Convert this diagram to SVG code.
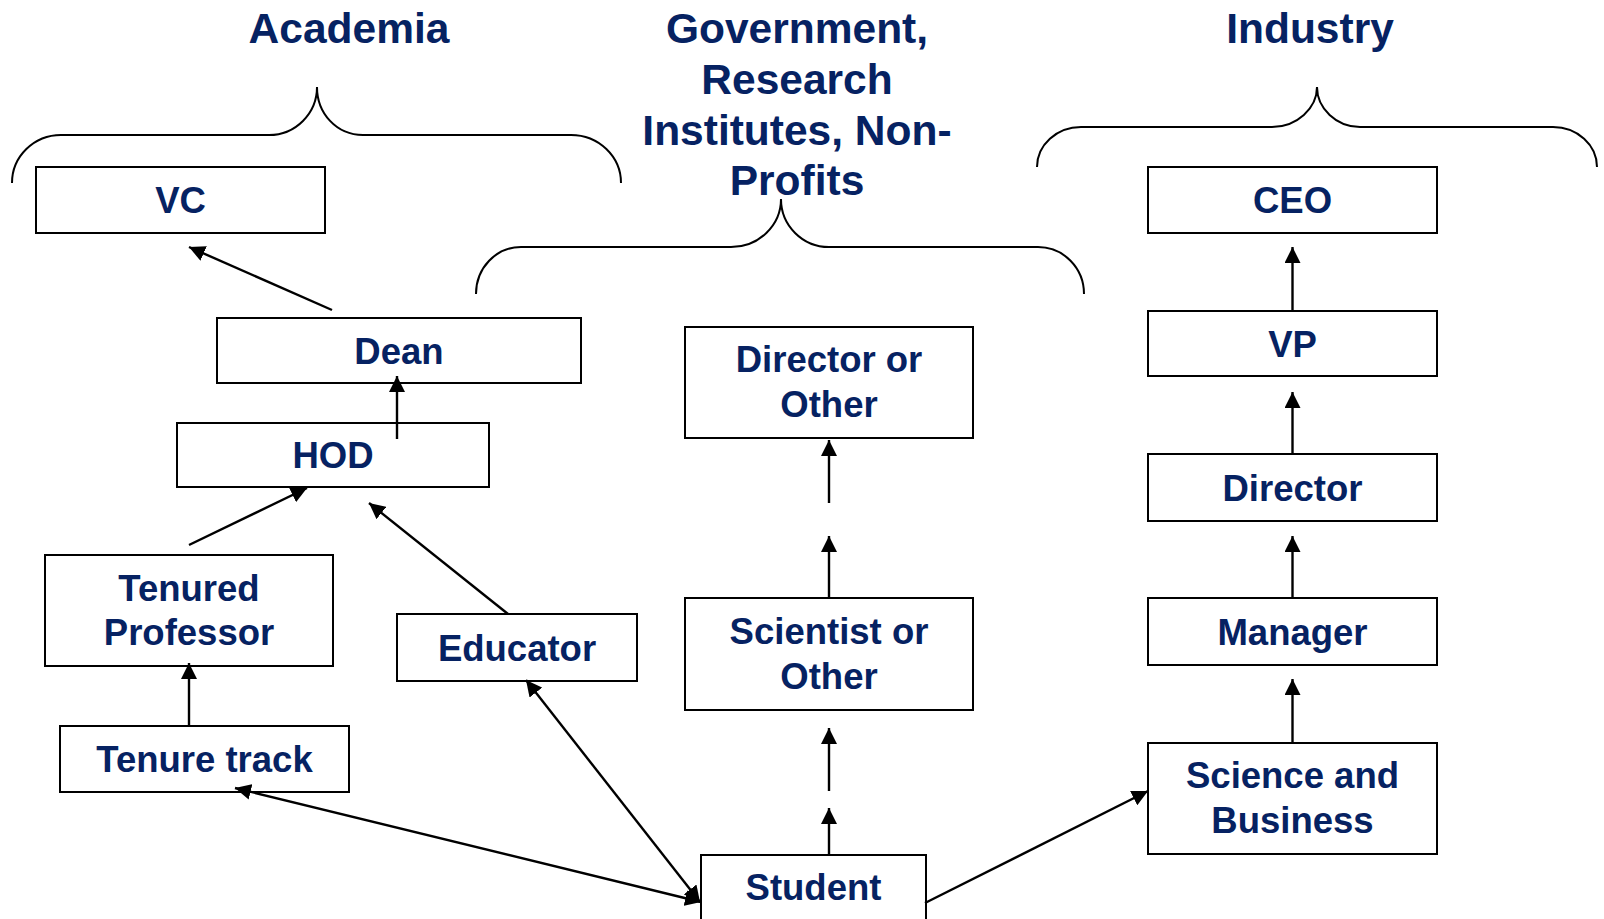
<svg xmlns="http://www.w3.org/2000/svg" width="1604" height="919" viewBox="0 0 1604 919">
<style>
.box{fill:#fff;stroke:#000;stroke-width:2}
.lbl{font-family:"Liberation Sans",Arial,sans-serif;font-weight:bold;font-size:36.5px;fill:#062262;text-anchor:middle}
.ttl{font-family:"Liberation Sans",Arial,sans-serif;font-weight:bold;font-size:42.5px;fill:#062262;text-anchor:middle}
.brace{fill:none;stroke:#000;stroke-width:2}
.conn{fill:none;stroke:#000;stroke-width:2.4}
</style>
<defs>
<marker id="ah" markerUnits="userSpaceOnUse" markerWidth="16" markerHeight="16" refX="16" refY="8" orient="auto-start-reverse" viewBox="0 0 16 16">
<path d="M0,0 L16,8 L0,16 z" fill="#000"/>
</marker>
</defs>
<rect width="1604" height="919" fill="#fff"/>
<g id="titles">
<text class="ttl" x="349" y="42.7">Academia</text>
<text class="ttl" x="797" y="42.7">Government,</text>
<text class="ttl" x="797" y="93.5">Research</text>
<text class="ttl" x="797" y="144.5">Institutes, Non-</text>
<text class="ttl" x="797" y="195">Profits</text>
<text class="ttl" x="1310" y="42.7">Industry</text>
</g>
<g id="braces">
<path class="brace" d="M12,183 C12,156.5 34,135 61,135 H269 C295.5,135 317,113.5 317,87 C317,113.5 336.5,135 363,135 H571 C598.6,135 621,156.5 621,183"/>
<path class="brace" d="M476,294 C476,268 496,247 521,247 H731 C758.6,247 781,225.5 781,199 C781,225.5 802.5,247 829,247 H1038 C1063.4,247 1084,268 1084,294"/>
<path class="brace" d="M1037,167 C1037,145 1056.7,127 1081,127 H1272 C1296.9,127 1317,108.2 1317,87 C1317,108.2 1336.3,127 1360,127 H1553 C1577.3,127 1597,145 1597,167"/>
</g>
<g id="vc"><rect class="box" x="36" y="167" width="289" height="66"/><text class="lbl" x="180.5" y="213">VC</text></g>
<g id="dean"><rect class="box" x="217" y="318" width="364" height="65"/><text class="lbl" x="399" y="363.5">Dean</text></g>
<g id="hod"><rect class="box" x="177" y="423" width="312" height="64"/><text class="lbl" x="333" y="468">HOD</text></g>
<g id="tenured"><rect class="box" x="45" y="555" width="288" height="111"/><text class="lbl" x="189" y="601">Tenured</text><text class="lbl" x="189" y="645">Professor</text></g>
<g id="educator"><rect class="box" x="397" y="614" width="240" height="67"/><text class="lbl" x="517" y="660.5">Educator</text></g>
<g id="tenuretrack"><rect class="box" x="60" y="726" width="289" height="66"/><text class="lbl" x="204.5" y="772">Tenure track</text></g>
<g id="student"><rect class="box" x="701" y="855" width="225" height="100"/><text class="lbl" x="813.5" y="900">Student</text></g>
<g id="director-other"><rect class="box" x="685" y="327" width="288" height="111"/><text class="lbl" x="829" y="372">Director or</text><text class="lbl" x="829" y="417">Other</text></g>
<g id="scientist-other"><rect class="box" x="685" y="598" width="288" height="112"/><text class="lbl" x="829" y="644">Scientist or</text><text class="lbl" x="829" y="689">Other</text></g>
<g id="ceo"><rect class="box" x="1148" y="167" width="289" height="66"/><text class="lbl" x="1292.5" y="213">CEO</text></g>
<g id="vp"><rect class="box" x="1148" y="311" width="289" height="65"/><text class="lbl" x="1292.5" y="356.5">VP</text></g>
<g id="director"><rect class="box" x="1148" y="454" width="289" height="67"/><text class="lbl" x="1292.5" y="500.5">Director</text></g>
<g id="manager"><rect class="box" x="1148" y="598" width="289" height="67"/><text class="lbl" x="1292.5" y="644.5">Manager</text></g>
<g id="science-business"><rect class="box" x="1148" y="743" width="289" height="111"/><text class="lbl" x="1292.5" y="788">Science and</text><text class="lbl" x="1292.5" y="833">Business</text></g>
<g id="connectors">
<path class="conn" d="M332,310 L189,247" marker-end="url(#ah)"/>
<path class="conn" d="M397,439 L397,376" marker-end="url(#ah)"/>
<path class="conn" d="M189,545 L307,488" marker-end="url(#ah)"/>
<path class="conn" d="M508,614 L369,503" marker-end="url(#ah)"/>
<path class="conn" d="M189,726 L189,663" marker-end="url(#ah)"/>
<path class="conn" d="M701,902 L235,788" marker-start="url(#ah)" marker-end="url(#ah)"/>
<path class="conn" d="M700,902 L526,680" marker-start="url(#ah)" marker-end="url(#ah)"/>
<path class="conn" d="M925,903 L1148,791" marker-end="url(#ah)"/>
<path class="conn" d="M829,855 L829,808" marker-end="url(#ah)"/>
<path class="conn" d="M829,791 L829,728" marker-end="url(#ah)"/>
<path class="conn" d="M829,598 L829,536" marker-end="url(#ah)"/>
<path class="conn" d="M829,503 L829,440" marker-end="url(#ah)"/>
<path class="conn" d="M1292.5,311 L1292.5,247" marker-end="url(#ah)"/>
<path class="conn" d="M1292.5,454 L1292.5,392" marker-end="url(#ah)"/>
<path class="conn" d="M1292.5,598 L1292.5,536" marker-end="url(#ah)"/>
<path class="conn" d="M1292.5,743 L1292.5,679" marker-end="url(#ah)"/>
</g>
</svg>
